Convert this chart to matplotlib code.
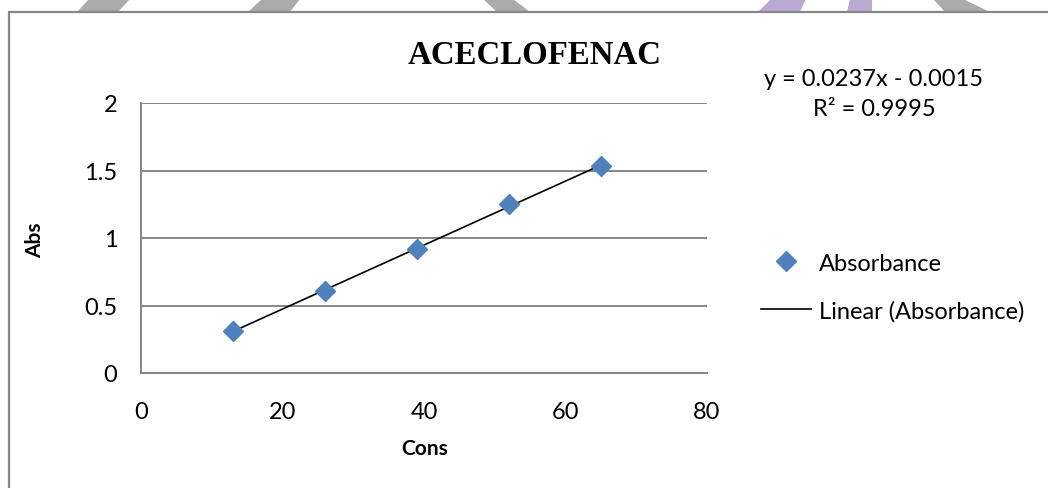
import numpy as np
import matplotlib.pyplot as plt
from matplotlib.patches import Polygon, Rectangle

# concentration vs absorbance
cons = [13, 26, 39, 52, 65]
absorbance = [0.31, 0.61, 0.92, 1.25, 1.53]
x_ticks = [0, 20, 40, 60, 80]
y_ticks = [0, 0.5, 1, 1.5, 2]

W, H = 1048, 489
fig = plt.figure(figsize=(W / 100, H / 100), dpi=100)

def px(x, y):
    return (x / W, 1 - y / H)

# faint page decorations peeking above the chart box
grey = '#ababab'
purple = '#bca9d3'
shapes = [
    ([(77, 13), (118, 13), (130, 0), (89, 0)], grey),
    ([(248, 13), (290, 13), (300, 0), (262, 0)], grey),
    ([(483, 0), (513, 0), (530, 13), (497, 13)], grey),
    ([(758, 13), (800, 13), (806, 0), (771, 0)], purple),
    ([(847, 13), (872, 13), (872, 0), (850, 0)], purple),
    ([(933, 0), (963, 0), (990, 13), (945, 13)], grey),
]
for pts, c in shapes:
    fig.patches.append(Polygon([px(*p) for p in pts], closed=True, facecolor=c,
                               edgecolor='none', transform=fig.transFigure, zorder=0))

# chart area border
x0, y0 = px(9, 13)
fig.patches.append(Rectangle((x0, -0.1), 1.2, y0 + 0.1, facecolor='none',
                             edgecolor='#878787', linewidth=1.6,
                             transform=fig.transFigure, zorder=1))

ax = fig.add_axes([141 / W, 1 - 374 / H, (707 - 141) / W, (374 - 104) / H])
ax.patch.set_alpha(0)

slope, intercept = np.polyfit(cons, absorbance, 1)
fit_x = np.array([cons[0], cons[-1]])

ax.plot(cons, absorbance, linestyle='none', marker='D', markersize=10,
        color='#4f81bd', label='Absorbance', zorder=3)
ax.plot(fit_x, slope * fit_x + intercept, color='black', linewidth=1.2,
        label='Linear (Absorbance)', zorder=2)

ax.set_xlim(0, 80)
ax.set_ylim(0, 2)
ax.set_xticks(x_ticks)
ax.set_yticks(y_ticks)
ax.set_xticklabels([str(t) for t in x_ticks])
ax.set_yticklabels(['0', '0.5', '1', '1.5', '2'])
ax.tick_params(length=0, labelsize=17)
ax.tick_params(axis='y', pad=17)
ax.tick_params(axis='x', pad=20)
for lab in ax.get_xticklabels() + ax.get_yticklabels():
    lab.set_fontfamily('Lato')

ax.grid(axis='y', color='#878787', linewidth=1.4)
ax.set_axisbelow(True)
for side in ['top', 'right']:
    ax.spines[side].set_visible(False)
for side in ['left', 'bottom']:
    ax.spines[side].set_color('#878787')
    ax.spines[side].set_linewidth(1.4)

fig.text(*px(535, 55), 'ACECLOFENAC', ha='center', va='center',
         fontsize=23.7, fontweight='bold', family='Liberation Serif')
fig.text(*px(35, 240), 'Abs', ha='center', va='center', rotation=90,
         fontsize=15, fontweight='bold', family='Lato')
fig.text(*px(425, 449), 'Cons', ha='center', va='center',
         fontsize=15, fontweight='bold', family='Lato')

fig.text(*px(874, 79), 'y = 0.0237x - 0.0015', ha='center', va='center',
         fontsize=17, family='Lato')
fig.text(*px(874, 110), 'R² = 0.9995', ha='center', va='center',
         fontsize=17, family='Lato')

leg = ax.legend(loc='center left', bbox_to_anchor=px(761, 288),
                bbox_transform=fig.transFigure, frameon=False, borderpad=0,
                borderaxespad=0, handlelength=2.1, handletextpad=0.35,
                labelspacing=1.1, numpoints=1, prop={'family': 'Lato', 'size': 17})

fig.savefig('out.png', dpi=100)
